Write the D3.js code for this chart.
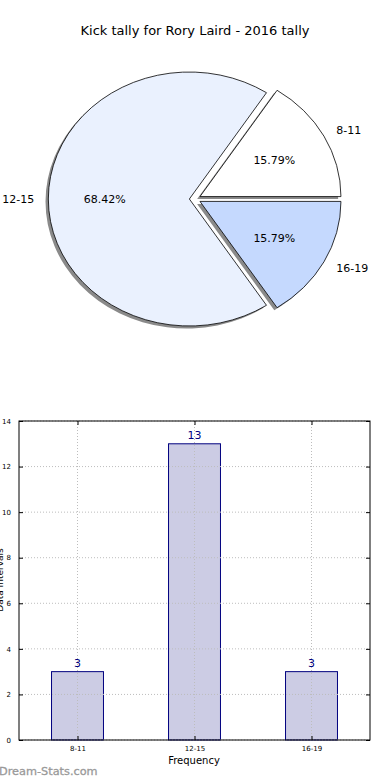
<!DOCTYPE html>
<html>
<head>
<meta charset="utf-8">
<script src="https://cdn.jsdelivr.net/npm/d3@7"></script>
<style>
  html, body { margin: 0; padding: 0; background: #fff; }
  svg { display: block; font-family: "DejaVu Sans", sans-serif; }
</style>
</head>
<body>
<svg id="chart" width="390" height="780"></svg>
<script>
const title = "Kick tally for Rory Laird - 2016 tally";
const categories = ["8-11", "12-15", "16-19"];
const counts = [3, 13, 3];
const pieColors = ["#ffffff", "#eaf1fe", "#c5d9fe"];
const yTicks = [0, 2, 4, 6, 8, 10, 12, 14];
const xLabel = "Frequency";
const yLabel = "Data Intervals";
const watermark = "Dream-Stats.com";

(function () {
const svg = d3.select("#chart");

svg.append("text").attr("x", 195).attr("y", 35).attr("text-anchor", "middle")
  .attr("font-size", 13).attr("fill", "#000").text(title);

// ---------- Pie ----------
const cx = 195, cy = 199, rx = 141, ry = 127, explode = 0.04, shadowOff = 0.02;
const total = d3.sum(counts);
const pie = d3.pie().sort(null).value(d => d)
  .startAngle(Math.PI / 2).endAngle(Math.PI / 2 - 2 * Math.PI);
const arcs = pie(counts);
const arcGen = d3.arc().innerRadius(0).outerRadius(1);

function offset(a) {
  const m = (a.startAngle + a.endAngle) / 2;
  return [explode * rx * Math.sin(m), -explode * ry * Math.cos(m), m];
}

const pieG = svg.append("g");
arcs.forEach(a => {
  const [dx, dy] = offset(a);
  pieG.append("path")
    .attr("d", arcGen(a))
    .attr("transform", `translate(${cx + dx - shadowOff * rx},${cy + dy + shadowOff * ry}) scale(${rx},${ry})`)
    .attr("fill", "#8a8a8a");
});
arcs.forEach((a, i) => {
  const [dx, dy] = offset(a);
  pieG.append("path")
    .attr("d", arcGen(a))
    .attr("transform", `translate(${cx + dx},${cy + dy}) scale(${rx},${ry})`)
    .attr("fill", pieColors[i])
    .attr("stroke", "#000")
    .attr("stroke-width", 0.8)
    .attr("vector-effect", "non-scaling-stroke");
});
arcs.forEach((a, i) => {
  const [dx, dy, m] = offset(a);
  const sx = Math.sin(m), sy = -Math.cos(m);
  const lx = cx + dx + 1.1 * rx * sx, ly = cy + dy + 1.1 * ry * sy;
  pieG.append("text").attr("x", lx).attr("y", ly).attr("dy", "0.35em")
    .attr("text-anchor", sx > 0 ? "start" : "end")
    .attr("font-size", 11).attr("fill", "#000").text(categories[i]);
  const px = cx + dx + 0.6 * rx * sx, py = cy + dy + 0.6 * ry * sy;
  pieG.append("text").attr("x", px).attr("y", py).attr("dy", "0.35em")
    .attr("text-anchor", "middle")
    .attr("font-size", 11).attr("fill", "#000")
    .text((counts[i] / total * 100).toFixed(2) + "%");
});

// ---------- Bar chart ----------
const pL = 19, pR = 370, pT = 421, pB = 740;
const y = d3.scaleLinear().domain([0, 14]).range([pB, pT]);
const xPoint = d3.scalePoint().domain(categories).range([pL, pR]).padding(0.5);
const xBand = d3.scaleBand().domain(categories).range([pL, pR]).paddingInner(0.556).paddingOuter(0.278);

const barG = svg.append("g");
barG.selectAll("rect.bar").data(counts).join("rect")
  .attr("class", "bar")
  .attr("x", (d, i) => xPoint(categories[i]) - xBand.bandwidth() / 2)
  .attr("width", xBand.bandwidth())
  .attr("y", d => y(d))
  .attr("height", d => pB - y(d))
  .attr("fill", "#cccce4")
  .attr("stroke", "#00007f")
  .attr("stroke-width", 1);

const grid = svg.append("g").attr("stroke", "#bdbdbd").attr("stroke-width", 1).attr("stroke-dasharray", "1,2");
yTicks.forEach(t => {
  grid.append("line").attr("x1", pL).attr("x2", pR).attr("y1", y(t)).attr("y2", y(t));
});
categories.forEach(c => {
  grid.append("line").attr("x1", xPoint(c)).attr("x2", xPoint(c)).attr("y1", pT).attr("y2", pB);
});

barG.selectAll("text.val").data(counts).join("text")
  .attr("class", "val")
  .attr("x", (d, i) => xPoint(categories[i]))
  .attr("y", d => y(d) - 5)
  .attr("text-anchor", "middle")
  .attr("font-size", 11).attr("fill", "#00007f")
  .text(d => d);

svg.append("rect").attr("x", pL).attr("y", pT).attr("width", pR - pL).attr("height", pB - pT)
  .attr("fill", "none").attr("stroke", "#000").attr("stroke-width", 1);

const yAxisL = d3.axisLeft(y).tickValues(yTicks).tickSizeInner(-4).tickSizeOuter(0).tickPadding(8);
const gy = svg.append("g").attr("transform", `translate(${pL},0)`).call(yAxisL);
gy.select(".domain").remove();
gy.selectAll("text").attr("font-size", 7).attr("font-family", "DejaVu Sans, sans-serif").attr("fill", "#000");
const yAxisR = d3.axisRight(y).tickValues(yTicks).tickSizeInner(-4).tickSizeOuter(0).tickFormat("");
const gyr = svg.append("g").attr("transform", `translate(${pR},0)`).call(yAxisR);
gyr.select(".domain").remove();

const xAxis = d3.axisBottom(xPoint).tickSizeInner(-4).tickSizeOuter(0).tickPadding(6);
const gx = svg.append("g").attr("transform", `translate(0,${pB})`).call(xAxis);
gx.select(".domain").remove();
gx.selectAll("text").attr("font-size", 7).attr("font-family", "DejaVu Sans, sans-serif").attr("fill", "#000");
const xAxisT = d3.axisTop(xPoint).tickSizeInner(-4).tickSizeOuter(0).tickFormat("");
const gxt = svg.append("g").attr("transform", `translate(0,${pT})`).call(xAxisT);
gxt.select(".domain").remove();

svg.append("text").attr("x", 194).attr("y", 764).attr("text-anchor", "middle")
  .attr("font-size", 10).attr("fill", "#000").text(xLabel);
svg.append("text").attr("transform", "translate(3,580) rotate(-90)").attr("text-anchor", "middle")
  .attr("font-size", 9).attr("fill", "#000").text(yLabel);

svg.append("text").attr("x", -1).attr("y", 775).attr("font-size", 11.3)
  .attr("fill", "#999").attr("stroke", "#999").attr("stroke-width", 0.3).text(watermark);
})();
</script>
</body>
</html>
